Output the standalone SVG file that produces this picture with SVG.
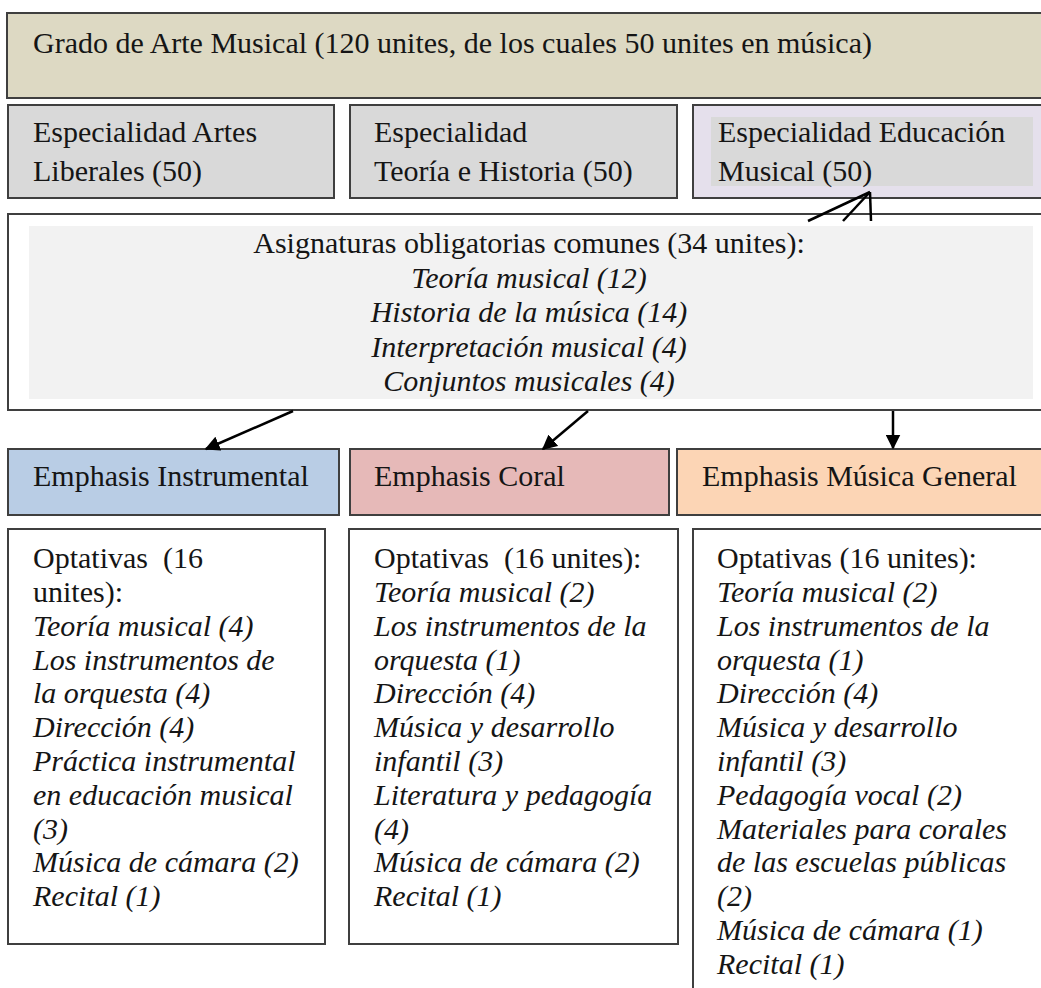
<svg xmlns="http://www.w3.org/2000/svg" width="1041" height="988" viewBox="0 0 1041 988">
<defs>
<style>
.box{stroke:#3f3f3f;stroke-width:2}
.t{font-family:"Liberation Serif","Times New Roman",serif;font-size:30px;fill:#151515}
.i{font-style:italic}
.c{text-anchor:middle}
.ln{stroke:#000;stroke-width:2.5;fill:none}
</style>
<marker id="ah" viewBox="0 0 10 10" refX="9" refY="5" markerWidth="6" markerHeight="6" orient="auto" markerUnits="strokeWidth">
<path d="M0,0 L10,5 L0,10 z" fill="#000"/>
</marker>
</defs>
<rect width="1041" height="988" fill="#fff"/>

<g id="grado">
<rect class="box" x="7" y="13" width="1045" height="85" fill="#ddd9c3"/>
<text class="t" x="33" y="53">Grado de Arte Musical (120 unites, de los cuales 50 unites en música)</text>
</g>

<g id="esp-artes">
<rect class="box" x="8" y="105" width="326" height="93" fill="#d9d9d9"/>
<text class="t" x="33" y="142">Especialidad Artes</text>
<text class="t" x="33" y="181">Liberales (50)</text>
</g>

<g id="esp-teoria">
<rect class="box" x="350" y="105" width="327" height="93" fill="#d9d9d9"/>
<text class="t" x="374" y="142">Especialidad</text>
<text class="t" x="374" y="181">Teoría e Historia (50)</text>
</g>

<g id="esp-educacion">
<rect class="box" x="693" y="105" width="360" height="93" fill="#e5e0ec"/>
<rect x="711" y="117" width="322" height="69" fill="#d9d9d9"/>
<text class="t" x="718" y="142">Especialidad Educación</text>
<text class="t" x="718" y="181">Musical (50)</text>
</g>

<g id="comunes">
<rect class="box" x="8" y="214" width="1045" height="196" fill="#fff"/>
<rect x="29" y="226" width="1004" height="173" fill="#f2f2f2"/>
<text class="t c" x="529" y="253">Asignaturas obligatorias comunes (34 unites):</text>
<text class="t c i" x="529" y="288">Teoría musical (12)</text>
<text class="t c i" x="529" y="322">Historia de la música (14)</text>
<text class="t c i" x="529" y="357">Interpretación musical (4)</text>
<text class="t c i" x="529" y="391">Conjuntos musicales (4)</text>
</g>

<g id="emph-instrumental">
<rect class="box" x="8" y="449" width="331" height="66" fill="#b9cde5"/>
<text class="t" x="33" y="486">Emphasis Instrumental</text>
</g>

<g id="emph-coral">
<rect class="box" x="350" y="449" width="319" height="66" fill="#e6b9b8"/>
<text class="t" x="374" y="486">Emphasis Coral</text>
</g>

<g id="emph-general">
<rect class="box" x="677" y="449" width="375" height="66" fill="#fcd5b5"/>
<text class="t" x="702" y="486">Emphasis Música General</text>
</g>

<g id="opt-instrumental">
<rect class="box" x="8" y="529" width="317" height="415" fill="#fff"/>
<text class="t" x="33" y="568" xml:space="preserve">Optativas  (16</text>
<text class="t" x="33" y="602">unites):</text>
<text class="t i" x="33" y="636">Teoría musical (4)</text>
<text class="t i" x="33" y="670">Los instrumentos de</text>
<text class="t i" x="33" y="703">la orquesta (4)</text>
<text class="t i" x="33" y="737">Dirección (4)</text>
<text class="t i" x="33" y="771">Práctica instrumental</text>
<text class="t i" x="33" y="805">en educación musical</text>
<text class="t i" x="33" y="839">(3)</text>
<text class="t i" x="33" y="872">Música de cámara (2)</text>
<text class="t i" x="33" y="906">Recital (1)</text>
</g>

<g id="opt-coral">
<rect class="box" x="349" y="529" width="329" height="415" fill="#fff"/>
<text class="t" x="374" y="568" xml:space="preserve">Optativas  (16 unites):</text>
<text class="t i" x="374" y="602">Teoría musical (2)</text>
<text class="t i" x="374" y="636">Los instrumentos de la</text>
<text class="t i" x="374" y="670">orquesta (1)</text>
<text class="t i" x="374" y="703">Dirección (4)</text>
<text class="t i" x="374" y="737">Música y desarrollo</text>
<text class="t i" x="374" y="771">infantil (3)</text>
<text class="t i" x="374" y="805">Literatura y pedagogía</text>
<text class="t i" x="374" y="839">(4)</text>
<text class="t i" x="374" y="872">Música de cámara (2)</text>
<text class="t i" x="374" y="906">Recital (1)</text>
</g>

<g id="opt-general">
<rect class="box" x="693" y="529" width="360" height="470" fill="#fff"/>
<text class="t" x="717" y="568">Optativas (16 unites):</text>
<text class="t i" x="717" y="602">Teoría musical (2)</text>
<text class="t i" x="717" y="636">Los instrumentos de la</text>
<text class="t i" x="717" y="670">orquesta (1)</text>
<text class="t i" x="717" y="703">Dirección (4)</text>
<text class="t i" x="717" y="737">Música y desarrollo</text>
<text class="t i" x="717" y="771">infantil (3)</text>
<text class="t i" x="717" y="805">Pedagogía vocal (2)</text>
<text class="t i" x="717" y="839">Materiales para corales</text>
<text class="t i" x="717" y="872">de las escuelas públicas</text>
<text class="t i" x="717" y="906">(2)</text>
<text class="t i" x="717" y="940">Música de cámara (1)</text>
<text class="t i" x="717" y="974">Recital (1)</text>
</g>

<g id="connectors">
<line class="ln" x1="808" y1="221" x2="870" y2="192"/>
<line class="ln" x1="843" y1="221" x2="870" y2="192"/>
<line class="ln" x1="871" y1="221" x2="870" y2="192"/>
<line class="ln" x1="293" y1="411" x2="206" y2="449" marker-end="url(#ah)"/>
<line class="ln" x1="588" y1="411" x2="543" y2="449" marker-end="url(#ah)"/>
<line class="ln" x1="893" y1="411" x2="893" y2="448" marker-end="url(#ah)"/>
</g>
</svg>
